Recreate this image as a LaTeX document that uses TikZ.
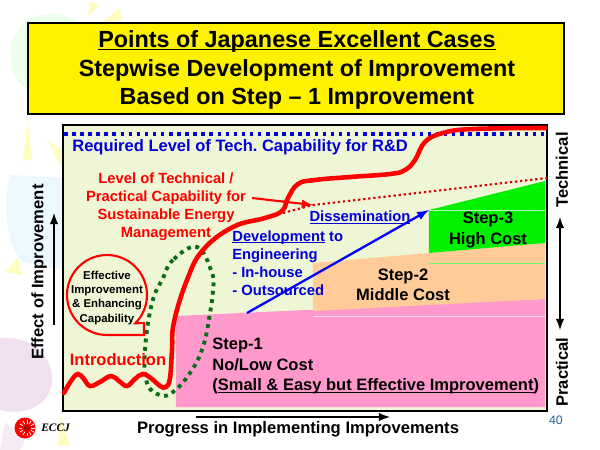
\documentclass[tikz,border=0pt]{standalone}
\usepackage{fontspec}
\setmainfont{Liberation Sans}
\newfontfamily\logofont{Liberation Serif}
\usepackage{tikz}
\usetikzlibrary{arrows}
\usetikzlibrary{calc}
\usetikzlibrary{positioning}
\frenchspacing
\definecolor{palegreen}{HTML}{EEF6D6}
\definecolor{stepthree}{HTML}{00F000}
\definecolor{steptwo}{HTML}{FFCC99}
\definecolor{stepone}{HTML}{FF99CC}
\definecolor{darkdots}{HTML}{0A6E14}
\definecolor{pagenum}{HTML}{1F5FA8}
\newcommand{\ulbl}[1]{\setbox0\hbox{#1}\rlap{\rule[-1.3pt]{\wd0}{0.5pt}}\box0\relax}
\tikzset{
  lbl/.style={font=\bfseries\fontsize{9.4}{11.4}\selectfont, inner sep=0pt, align=left},
  bluelbl/.style={lbl, text=blue!85!black},
  redlbl/.style={lbl, text=red, align=center, font=\bfseries\fontsize{8.4}{10.3}\selectfont},
  steplbl/.style={lbl, align=center, font=\bfseries\fontsize{9.4}{11.6}\selectfont},
  axislbl/.style={lbl, font=\bfseries\fontsize{9.45}{11}\selectfont},
}
\begin{document}
\begin{tikzpicture}[x=0.02cm, y=-0.02cm, >=latex]
\useasboundingbox (0,0) rectangle (600,450);
\fill[white] (0,0) rectangle (600,450);

% points def
\coordinate (FrameA) at (63,125);
\coordinate (FrameB) at (547,411);
\coordinate (Tip) at (429,210);
\coordinate (CurveEnd) at (545,128);

% faint background
\fill[green!8] (10,50) .. controls (15,15) and (50,5) .. (78,22) -- (30,90) .. controls (15,85) and (10,70) .. (10,50) -- cycle;
\fill[cyan!8] (10,175) -- (63,178) -- (63,270) -- (22,262) .. controls (5,240) and (3,200) .. (10,175) -- cycle;
\fill[violet!12] (0,338) .. controls (30,335) and (55,355) .. (52,385) .. controls (45,410) and (20,415) .. (0,410) -- cycle;
\fill[violet!8] (5,422) -- (25,440) -- (20,450) -- (0,450) -- cycle;
\fill[yellow!25] (90,2) -- (100,5) -- (88,16) -- cycle;
\fill[yellow!25] (120,8) -- (122,20) -- (102,22) -- cycle;
\fill[yellow!25] (28,120) -- (32,160) -- (23,160) -- cycle;
\fill[yellow!25] (48,140) -- (62,150) -- (62,170) -- cycle;
\fill[yellow!25] (18,258) -- (22,275) -- (5,272) -- cycle;
\fill[yellow!25] (60,415) -- (70,445) -- (58,445) -- cycle;

% title
\path[draw=black, line width=1.4pt, fill=yellow] (28,23) rectangle (564,114);
\node[font=\bfseries\fontsize{13.3}{16.1}\selectfont, align=center, inner sep=0pt] (Title) at (297,70)
  {\ulbl{Points of Japanese Excellent Cases}\\Stepwise Development of Improvement\\Based on Step -- 1 Improvement};

% frame and step regions
\fill[palegreen] (FrameA) rectangle (FrameB);
\fill[stepone] (176,316) -- (545,299) -- (545,407) -- (176,407) -- cycle;
\fill[steptwo] (313,263) -- (429,253) -- (545,243) -- (545,299) -- (313,311) -- cycle;
\fill[stepthree] (429,210) -- (545,181) -- (545,243) -- (429,253) -- cycle;
\draw[white!70!stepthree, line width=0.3pt] (429,210) -- (545,210);
\draw[white!40!green, line width=0.3pt] (429,263) -- (545,263);
\draw[white!60!stepone, line width=0.3pt] (313,316) -- (545,316);
\draw[line width=1.6pt] (FrameA) rectangle (FrameB);

% required level
\draw[blue!85!black, line width=2pt, dash pattern=on 2pt off 2.6pt] (64,134) -- (547,134);

% dotted lines
\draw[red!85!black, line width=1.2pt, dash pattern=on 1.3pt off 1.6pt] (283,213) -- (313,205) -- (547,178);

% ellipse
\draw[darkdots, line width=2.2pt, dash pattern=on 2.2pt off 2.6pt] plot[smooth cycle, tension=0.7] coordinates {(197,247) (173,260) (163,278) (152,303) (145,350) (147,383) (160,395) (173,392) (190,373) (203,347) (210,313) (213,290) (212,273)};

% curve
\draw[red, line width=2.6pt, line cap=round] plot[smooth, tension=0.7] coordinates {(64,393) (71,381) (78,374) (84,379) (90,386) (100,382) (111,376) (119,381) (127,386) (135,379) (143,374) (152,379) (160,386) (166,387) (170,378) (172,350) (174,322) (187,280) (203,250) (233,227) (265,218) (282,211) (288,198) (298,184) (315,180) (350,177) (390,174) (405,170) (415,160) (425,142) (443,133) (473,129) (CurveEnd)};

% arrows
\draw[->, red, line width=1.2pt] (252,198) -- (313,205);
\draw[->, blue, line width=1.3pt] (247,313) -- (Tip);
\draw[->, line width=1.2pt] (54,325) -- (54,213);
\draw[<->, line width=1.2pt] (560,217) -- (560,330);
\draw[->, line width=1.2pt] (196,417) -- (390,417);

% callout, the circle runs into its corner
\draw[red, line width=1.2pt, domain=90:405, samples=60] plot ({107+40*cos(\x)}, {295+40*sin(\x)}) -- (144,323) -- (144,335) -- (107,335);
\node[lbl, align=center, font=\bfseries\fontsize{6.5}{8}\selectfont] (Effective) at (107,298) {Effective\\Improvement\\\& Enhancing\\Capability};

% labels
\node[bluelbl, anchor=west, font=\bfseries\fontsize{9.4}{11}\selectfont] (Required) at (72,147) {Required Level of Tech. Capability for R\&D};
\node[redlbl] (Level) at (166,207) {Level of Technical /\\Practical Capability for\\Sustainable Energy\\Management};
\node[lbl, text=red, font=\bfseries\fontsize{9.4}{12}\selectfont] (Intro) at (118,360) {Introduction};
\node[bluelbl, font=\bfseries\fontsize{8.4}{10.3}\selectfont] (Dissemination) at (360,217) {\ulbl{Dissemination}};
\node[bluelbl, anchor=north west, font=\bfseries\fontsize{8.4}{10.3}\selectfont] (Development) at (232,230) {\ulbl{Development} to\\Engineering\\- In-house\\- Outsourced};
\node[steplbl] (StepThree) at (488,230) {Step-3\\High Cost};
\node[steplbl] (StepTwo) at (403,285) {Step-2\\Middle Cost};
\node[lbl, anchor=north west, font=\bfseries\fontsize{9.4}{11.6}\selectfont] (StepOne) at (212,338) {Step-1\\No/Low Cost\\(\ulbl{Small \& Easy but Effective Improvement})};

% axes
\node[axislbl, rotate=90] (EffectLbl) at (39,272) {Effect of Improvement};
\node[axislbl, rotate=90] (TechLbl) at (562,170) {Technical};
\node[axislbl, rotate=90] (PracLbl) at (562,372) {Practical};
\node[axislbl] (ProgressLbl) at (298,429) {Progress in Implementing Improvements};

% logo and page
\fill[red] (25,428) circle (10.5);
\fill[red!70!black] (27,428) circle (3.5);
\foreach \a in {0,30,...,330}
  \draw[white, line width=0.4pt] ($(27,428)+(\a:4.5)$) -- ($(27,428)+(\a:8)$);
\node[inner sep=0pt, anchor=west, font=\fontsize{6.5}{7}\logofont\itshape\bfseries] (Eccj) at (41,428) {ECCJ};
\node[inner sep=0pt, text=pagenum, font=\fontsize{7}{8}\selectfont] (PageNum) at (556,420) {40};
\end{tikzpicture}
\end{document}
